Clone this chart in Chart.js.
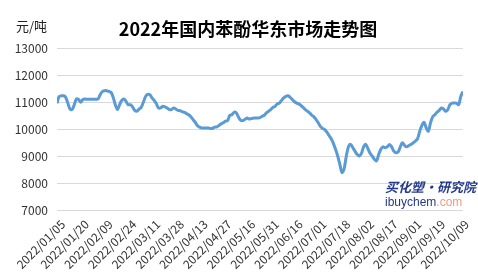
<!DOCTYPE html>
<html>
<head>
<meta charset="utf-8">
<script src="https://cdn.jsdelivr.net/npm/chart.js@4"></script>
<style>
  html, body { margin: 0; padding: 0; background: #fff; }
  #wrap { width: 478px; height: 276px; }
</style>
</head>
<body>
<div id="wrap"><canvas id="priceChart"></canvas></div>
<script>
// tick labels shown every 11 trading days
const tickLabels = ['2022/01/05', '2022/01/20', '2022/02/09', '2022/02/24', '2022/03/11', '2022/03/28',
    '2022/04/13', '2022/04/27', '2022/05/16', '2022/05/31', '2022/06/16', '2022/07/01',
    '2022/07/18', '2022/08/02', '2022/08/17', '2022/09/01', '2022/09/19', '2022/10/09'];
const labelStep = 11;

// East China phenol price, yuan/ton
const prices = [
    10950, 11200, 11230, 11230, 11180, 10960, 10740, 10720, 10900, 11110,
    11090, 10990, 11090, 11110, 11100, 11100, 11100, 11100, 11100, 11110,
    11270, 11390, 11420, 11420, 11390, 11360, 11180, 10900, 10720, 10900,
    11060, 11110, 11020, 10900, 10900, 10820, 10690, 10660, 10740, 10800,
    10990, 11200, 11280, 11270, 11150, 11060, 10940, 10780, 10780, 10840,
    10820, 10780, 10720, 10720, 10780, 10740, 10690, 10680, 10640, 10620,
    10570, 10530, 10450, 10350, 10250, 10130, 10070, 10040, 10040, 10040,
    10040, 10020, 10020, 10070, 10080, 10130, 10190, 10230, 10290, 10310,
    10500, 10530, 10620, 10600, 10450, 10330, 10310, 10350, 10410, 10370,
    10390, 10400, 10410, 10410, 10420, 10470, 10510, 10600, 10660, 10720,
    10800, 10840, 10930, 10960, 11060, 11150, 11210, 11230, 11170, 11090,
    11010, 10960, 10930, 10870, 10800, 10720, 10660, 10600, 10510, 10450,
    10350, 10230, 10100, 10020, 9980, 9880, 9760, 9640, 9470, 9250,
    9000, 8690, 8390, 8530, 9000, 9340, 9430, 9310, 9180, 9060,
    9000, 9100, 9340, 9430, 9270, 9100, 9000, 8880, 8820, 9060,
    9250, 9340, 9310, 9340, 9430, 9340, 9180, 9120, 9150, 9340,
    9490, 9390, 9340, 9390, 9430, 9490, 9550, 9640, 9920, 10130,
    10250, 10040, 9920, 10230, 10450, 10530, 10620, 10690, 10780, 10740,
    10660, 10720, 10900, 10960, 10960, 10960, 10900, 11200, 11390
];

const yMin = 7000;
const yMax = 13000;
const yStep = 1000;

const points = prices.map((v, i) => ({ x: i, y: v }));

// title, unit and watermark text
const decorPlugin = {
    id: 'decor',
    afterDraw(chart) {
        const ctx = chart.ctx;
        ctx.save();
        ctx.textBaseline = 'middle';
        ctx.fillStyle = '#000';
        ctx.textAlign = 'center';
        ctx.font = 'bold 18px "Noto Sans CJK SC"';
        ctx.fillText('2022年国内苯酚华东市场走势图', 248, 29);
        ctx.textAlign = 'left';
        ctx.font = '13px "Noto Sans CJK SC"';
        ctx.fillStyle = '#222';
        ctx.fillText('元/吨', 16, 26);

        ctx.font = 'italic bold 13px "Noto Sans CJK SC"';
        ctx.fillStyle = '#23398a';
        ctx.fillText('买化塑·研究院', 385, 187);
        ctx.font = '12px "Liberation Sans"';
        ctx.fillText('ibuychem', 385, 203);
        const w = ctx.measureText('ibuychem').width;
        ctx.fillStyle = '#f29a7c';
        ctx.fillText('.com', 385 + w, 203);
        ctx.restore();
    }
};

const ctx = document.getElementById('priceChart').getContext('2d');
const chart = new Chart(ctx, {
    type: 'line',
    data: {
        datasets: [{
            data: points,
            borderColor: '#5b9bd5',
            borderWidth: 3,
            pointRadius: 0,
            tension: 0.35,
            fill: false
        }]
    },
    options: {
        responsive: true,
        maintainAspectRatio: false,
        animation: false,
        layout: { padding: { top: 48, right: 12, left: 0, bottom: 0 } },
        plugins: {
            legend: { display: false },
            tooltip: { enabled: false }
        },
        scales: {
            x: {
                type: 'linear',
                min: 0,
                max: prices.length - 1,
                grid: { display: false, drawTicks: false },
                border: { display: false },
                afterBuildTicks(scale) {
                    scale.ticks = tickLabels.map((t, k) => ({ value: k * labelStep }));
                },
                afterFit(scale) { scale.height = 66; },
                ticks: {
                    autoSkip: false,
                    maxRotation: 45,
                    minRotation: 45,
                    padding: 7,
                    labelOffset: 6,
                    color: '#333',
                    font: { family: '"Noto Sans CJK SC"', size: 12 },
                    callback: (v) => tickLabels[Math.round(v / labelStep)]
                }
            },
            y: {
                min: yMin,
                max: yMax,
                grid: { color: '#d9d9d9', drawTicks: false },
                border: { display: false },
                afterFit(scale) { scale.width = 57; },
                ticks: {
                    stepSize: yStep,
                    padding: 9,
                    color: '#333',
                    font: { family: '"Noto Sans CJK SC"', size: 12 },
                    callback: (v) => String(v)
                }
            }
        }
    },
    plugins: [decorPlugin]
});
</script>
</body>
</html>
